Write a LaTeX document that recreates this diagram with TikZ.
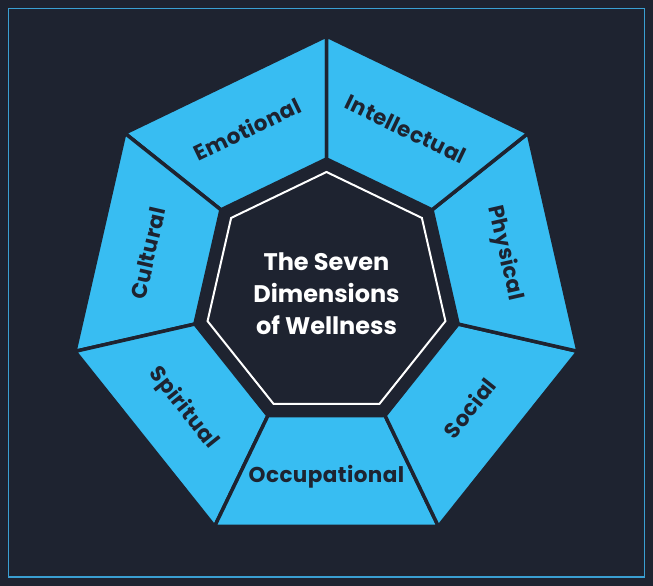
\documentclass[tikz,border=0pt]{standalone}
\usepackage{fontspec}
\setmainfont{Poppins}
\definecolor{bgdark}{HTML}{1E2330}
\definecolor{wellblue}{HTML}{38BDF2}
\definecolor{frameblue}{HTML}{3A9FD2}

\begin{document}
\begin{tikzpicture}[x=1pt, y=1pt,
		segment/.style={fill=wellblue, draw=bgdark, line width=3.5pt, line join=round},
		dimlabel/.style={font=\bfseries\fontsize{21.5}{24}\selectfont\addfontfeatures{LetterSpace=2}, text=bgdark},
		titletext/.style={font=\bfseries\fontsize{24}{32}\selectfont, text=white, align=center}]
		\fill[bgdark] (0,0) rectangle (653,586);
		\useasboundingbox (0,0) rectangle (653,586);
		\draw[frameblue, line width=1.5pt] (8.5,9) rectangle (644.5,577.5);
		%%
		\begin{scope}[shift={(326.5,292)}]
		\coordinate (c) at (0,0);
		\foreach \k in {0,...,6} {
			\coordinate (o\k) at (90+\k*360/7:258);
			\coordinate (n\k) at (90+\k*360/7:135);
			\coordinate (w\k) at (90+\k*360/7:122);
		}
		%%
		\foreach \k/\name/\turn in {0/Emotional/-90, 1/Cultural/-90, 2/Spiritual/90, 3/Occupational/90, 4/Social/90, 5/Physical/-90, 6/Intellectual/-90} {
			\pgfmathtruncatemacro\j{mod(\k+1,7)}
			\pgfmathsetmacro\mid{90+(\k+0.5)*360/7}
			\draw[segment] (o\k) -- (o\j) -- (n\j) -- (n\k) -- cycle;
			\node[dimlabel, rotate=\mid+\turn] (lab\k) at (\mid:183) {\name};
		}
		%%
		\draw[white, line width=2pt, line join=miter] (w0) -- (w1) -- (w2) -- (w3) -- (w4) -- (w5) -- (w6) -- cycle;
		\node[titletext] (title) at (c) {The Seven\\Dimensions\\of Wellness};
		\end{scope}
	\end{tikzpicture}
\end{document}
